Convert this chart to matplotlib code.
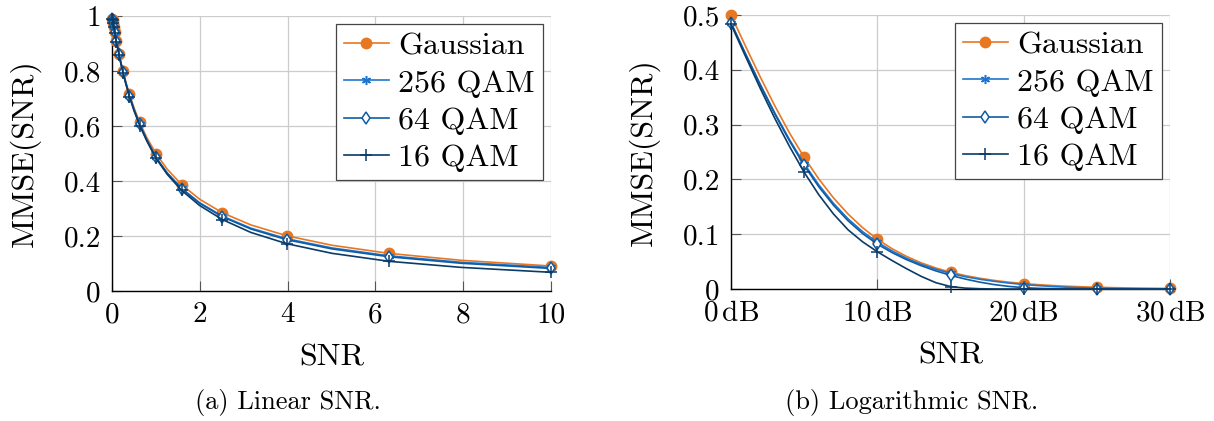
import matplotlib
matplotlib.use("Agg")
import matplotlib.pyplot as plt

plt.rcParams["font.family"] = "cmr10"
plt.rcParams["mathtext.fontset"] = "cm"
plt.rcParams["axes.formatter.use_mathtext"] = True

# SNR grid in dB, -20 ... 30 in 1 dB steps
snr_db = list(range(-20, 31))
# linear SNR for the points -20 ... 10 dB (left panel)
snr_lin = [0.0100, 0.0126, 0.0158, 0.0200, 0.0251, 0.0316, 0.0398, 0.0501,
           0.0631, 0.0794, 0.1000, 0.1259, 0.1585, 0.1995, 0.2512, 0.3162,
           0.3981, 0.5012, 0.6310, 0.7943, 1.0000, 1.2589, 1.5849, 1.9953,
           2.5119, 3.1623, 3.9811, 5.0119, 6.3096, 7.9433, 10.0000]

mmse_gauss = [0.9901, 0.9876, 0.9844, 0.9804, 0.9755, 0.9693, 0.9617, 0.9523,
              0.9406, 0.9264, 0.9091, 0.8882, 0.8632, 0.8337, 0.7992, 0.7597,
              0.7153, 0.6661, 0.6131, 0.5573, 0.5000, 0.4427, 0.3869, 0.3339,
              0.2847, 0.2403, 0.2008, 0.1663, 0.1368, 0.1118, 0.0909, 0.0736,
              0.0594, 0.0477, 0.0383, 0.0307, 0.0245, 0.0196, 0.0156, 0.0124,
              0.0099, 0.0079, 0.0063, 0.0050, 0.0040, 0.0032, 0.0025, 0.0020,
              0.0016, 0.0013, 0.0010]
mmse_256 = [0.9901, 0.9876, 0.9844, 0.9804, 0.9754, 0.9692, 0.9615, 0.9520,
            0.9402, 0.9258, 0.9082, 0.8870, 0.8615, 0.8314, 0.7962, 0.7558,
            0.7104, 0.6602, 0.6062, 0.5496, 0.4860, 0.4290, 0.3735, 0.3210,
            0.2725, 0.2285, 0.1900, 0.1565, 0.1280, 0.1045, 0.0855, 0.0695,
            0.0560, 0.0450, 0.0360, 0.0285, 0.0225, 0.0178, 0.0140, 0.0108,
            0.0082, 0.0062, 0.0045, 0.0032, 0.0022, 0.0015, 0.0009, 0.0005,
            0.0003, 0.0001, 0.0001]
mmse_64 = [0.9901, 0.9876, 0.9844, 0.9804, 0.9754, 0.9692, 0.9615, 0.9519,
           0.9401, 0.9257, 0.9080, 0.8868, 0.8612, 0.8310, 0.7957, 0.7552,
           0.7097, 0.6595, 0.6055, 0.5489, 0.4855, 0.4280, 0.3720, 0.3190,
           0.2700, 0.2255, 0.1865, 0.1530, 0.1245, 0.1010, 0.0820, 0.0665,
           0.0535, 0.0425, 0.0330, 0.0250, 0.0182, 0.0125, 0.0080, 0.0047,
           0.0025, 0.0012, 0.0005, 0.0002, 0.0001, 0.0, 0.0, 0.0,
           0.0, 0.0, 0.0]
mmse_16 = [0.9901, 0.9876, 0.9844, 0.9803, 0.9753, 0.9690, 0.9612, 0.9515,
           0.9396, 0.9250, 0.9072, 0.8857, 0.8598, 0.8292, 0.7934, 0.7524,
           0.7064, 0.6558, 0.6015, 0.5450, 0.4830, 0.4240, 0.3660, 0.3110,
           0.2600, 0.2130, 0.1720, 0.1370, 0.1080, 0.0860, 0.0680, 0.0520,
           0.0370, 0.0230, 0.0115, 0.0045, 0.0016, 0.0005, 0.0001, 0.0,
           0.0, 0.0, 0.0, 0.0, 0.0, 0.0, 0.0, 0.0,
           0.0, 0.0, 0.0]

labels = ["Gaussian", "256 QAM", "64 QAM", "16 QAM"]
series = [mmse_gauss, mmse_256, mmse_64, mmse_16]
colors = ["#e87722", "#1f75cc", "#0f5ca3", "#0a3b69"]
styles = [dict(marker="o", markersize=8.5, markerfacecolor="#e87722", markeredgewidth=0),
          dict(marker=(6, 2, 0), markersize=6.5, markeredgewidth=1.1),
          dict(marker="d", markersize=6.5, markerfacecolor="white", markeredgewidth=1.1),
          dict(marker="+", markersize=9, markeredgewidth=1.1)]

fig = plt.figure(figsize=(12.14, 4.21), dpi=100)
ax1 = fig.add_axes([112 / 1214, 1 - 291 / 421, 439 / 1214, 275 / 421])
ax2 = fig.add_axes([731 / 1214, 1 - 289 / 421, 439 / 1214, 274 / 421])

n_lin = len(snr_lin)
i0 = snr_db.index(0)
for y, lab, c, st in zip(series, labels, colors, styles):
    ax1.plot(snr_lin, y[:n_lin], color=c, lw=1.2, label=lab, markevery=2,
             clip_on=False, zorder=3, **st)
    ax2.plot(snr_db[i0:], y[i0:], color=c, lw=1.2, label=lab, markevery=5,
             clip_on=False, zorder=3, **st)

ax1.set_xlim(0, 10)
ax1.set_ylim(0, 1)
ax1.set_xticks([0, 2, 4, 6, 8, 10])
ax1.set_xticklabels(["0", "2", "4", "6", "8", "10"])
ax1.set_yticks([0, 0.2, 0.4, 0.6, 0.8, 1])
ax1.set_yticklabels(["0", "0.2", "0.4", "0.6", "0.8", "1"])

ax2.set_xlim(0, 30)
ax2.set_ylim(0, 0.5)
ax2.set_xticks([0, 10, 20, 30])
ax2.set_xticklabels([r"$0\,\mathrm{dB}$", r"$10\,\mathrm{dB}$",
                     r"$20\,\mathrm{dB}$", r"$30\,\mathrm{dB}$"])
ax2.set_yticks([0, 0.1, 0.2, 0.3, 0.4, 0.5])
ax2.set_yticklabels(["0", "0.1", "0.2", "0.3", "0.4", "0.5"])

for ax in (ax1, ax2):
    ax.grid(True, color="#cccccc", lw=0.9)
    ax.set_axisbelow(True)
    for s in ("top", "right"):
        ax.spines[s].set_visible(False)
    for s in ("left", "bottom"):
        ax.spines[s].set_color("black")
        ax.spines[s].set_linewidth(1.0)
    ax.tick_params(direction="in", length=7, width=0.8, color="#555555",
                   labelsize=21)
    ax.tick_params(axis="y", pad=8)
    ax.tick_params(axis="x", pad=8)
    ax.set_xlabel("SNR", fontsize=23, labelpad=11)
    ax.set_ylabel("MMSE(SNR)", fontsize=23, labelpad=16)
    leg = ax.legend(loc="upper right", fontsize=23, frameon=True, fancybox=False,
                    framealpha=1, edgecolor="#444444", handlelength=1.4,
                    handletextpad=0.3, borderaxespad=0.25, labelspacing=0.28,
                    borderpad=0.25)
    leg.get_frame().set_linewidth(0.9)

fig.text(0.2368, 0.029, "(a) Linear SNR.", ha="center", va="baseline", fontsize=19)
fig.text(0.751, 0.029, "(b) Logarithmic SNR.", ha="center", va="baseline", fontsize=19)

fig.savefig("out.png", dpi=100)
